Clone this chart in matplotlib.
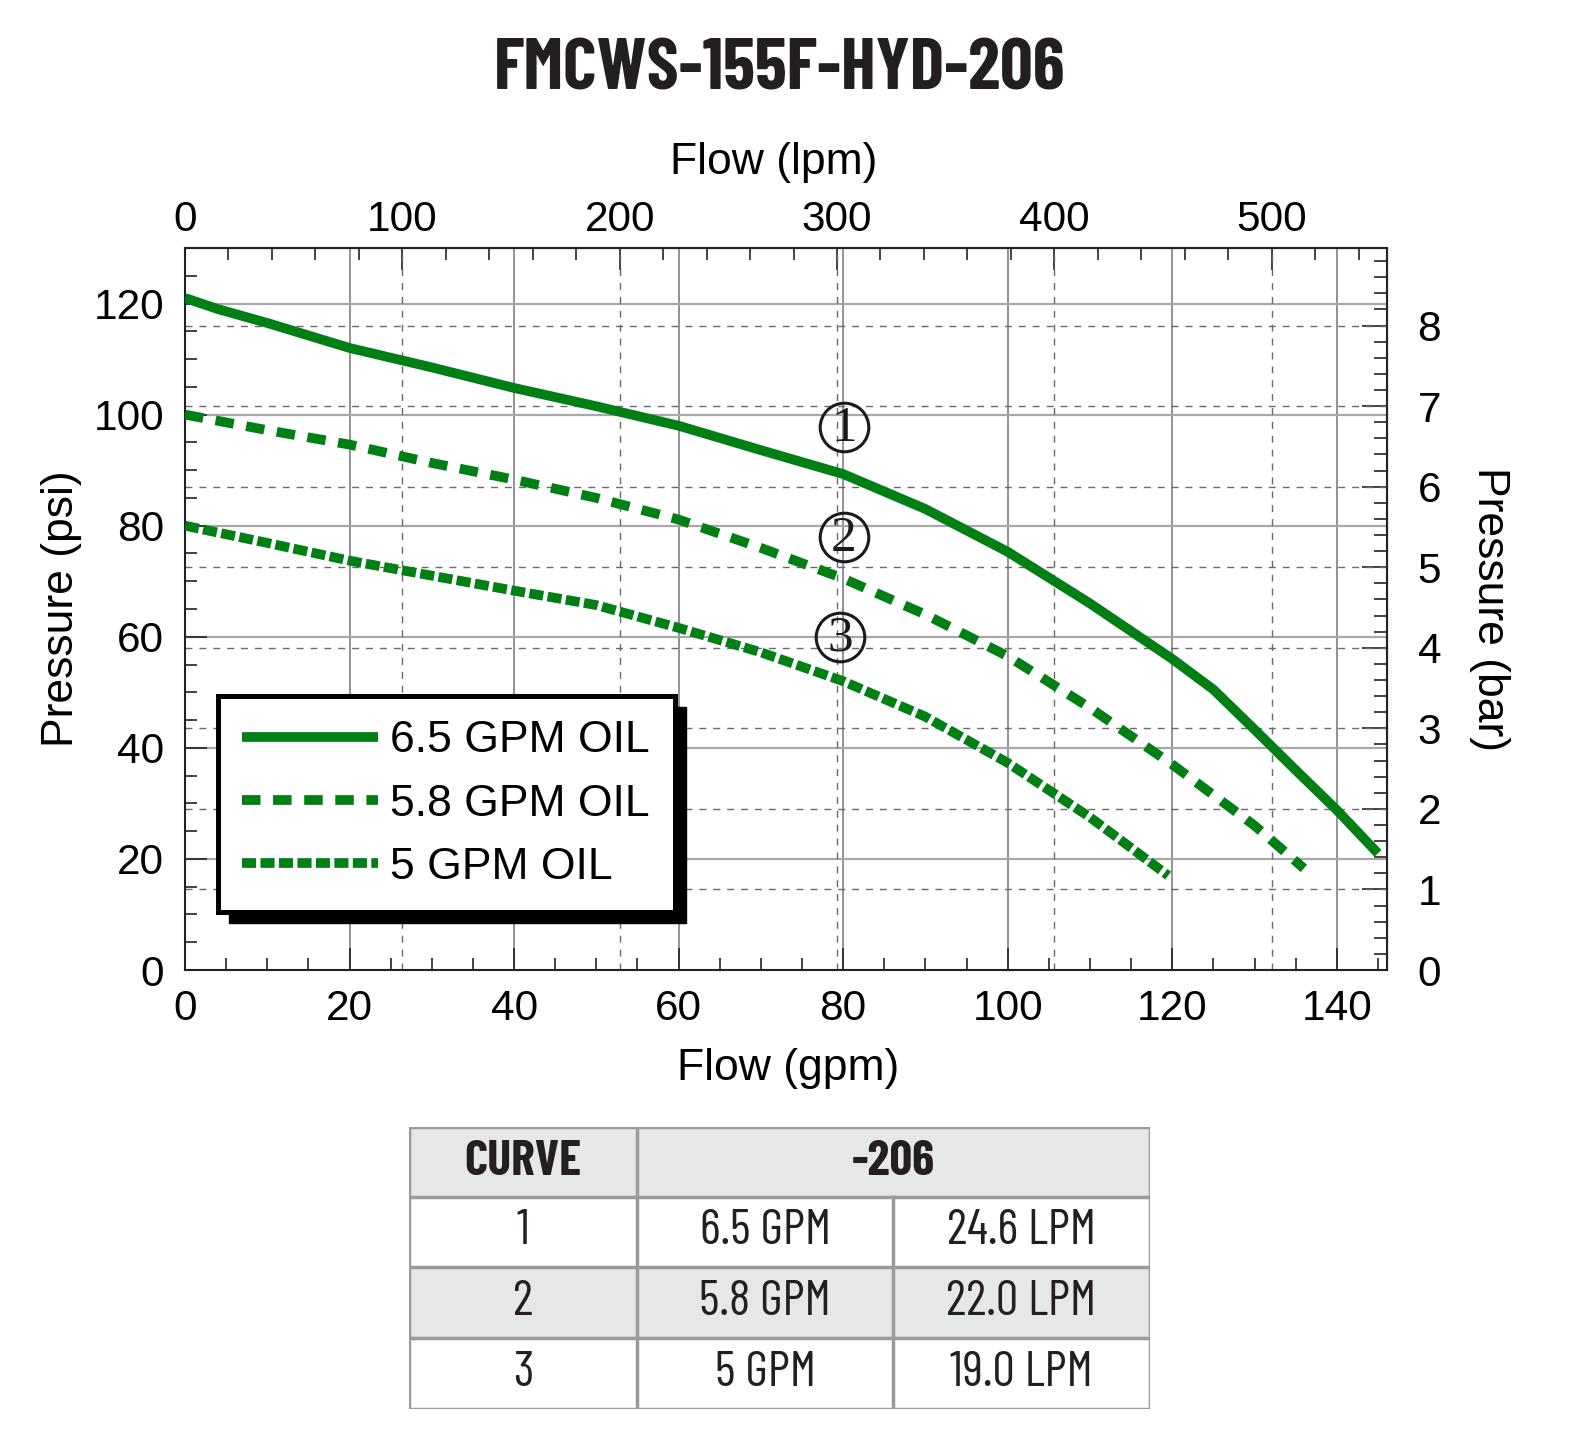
import matplotlib
matplotlib.use('Agg')
import matplotlib.pyplot as plt
from matplotlib.ticker import MultipleLocator
from matplotlib.patches import Rectangle
from matplotlib.textpath import TextPath
from matplotlib import font_manager

plt.rcParams['font.family'] = ['Liberation Sans', 'DejaVu Sans']

GPM_TO_LPM = 3.78541
PSI_PER_BAR = 14.5038

# curve data (flow in gpm, pressure in psi)
flow_1 = [0, 4, 10, 20, 30, 40, 50, 60, 70, 80, 90, 100, 110, 115, 120, 125, 130, 135, 140, 145]
psi_1 = [121, 119, 116.5, 112, 108.5, 104.8, 101.5, 98, 93.6, 89.3, 83, 75.3, 66, 61, 56, 50.5,
         43.3, 36, 28.8, 21]

flow_2 = [0, 10, 20, 30, 40, 50, 60, 70, 80, 90, 100, 110, 120, 130, 136]
psi_2 = [100, 97.2, 94.6, 91.3, 88.3, 85, 81.1, 76, 70.5, 64, 56.5, 47.2, 37, 26, 18.3]

flow_3 = [0, 10, 20, 30, 40, 50, 60, 70, 80, 90, 100, 110, 119.5]
psi_3 = [80, 76.9, 73.7, 71, 68.3, 65.7, 61.6, 57.2, 52, 45.6, 37.3, 27.5, 17]

series_labels = ['6.5 GPM OIL', '5.8 GPM OIL', '5 GPM OIL']
curve_marks = ['1', '2', '3']
mark_pos = [(80.1, 97.7), (80.1, 78.0), (79.6, 60.0)]

title = 'FMCWS-155F-HYD-206'
table_header = ['CURVE', '-206']
table_rows = [['1', '6.5 GPM', '24.6 LPM'],
              ['2', '5.8 GPM', '22.0 LPM'],
              ['3', '5 GPM', '19.0 LPM']]

GREEN = '#007F15'
INK = '#231f20'


def weight_num(f):
    if isinstance(f.weight, int):
        return f.weight
    return font_manager.weight_dict.get(f.weight, 400)


def path_size(fp, s):
    return TextPath((0, 0), s, prop=fp, size=100).get_extents()


def pick_condensed_fonts(target_ratio=11.1):
    # look for a narrow / condensed sans face close to the title's width-to-cap-height ratio
    narrow = [f for f in font_manager.fontManager.ttflist
              if f.style == 'normal' and ('condensed' in str(f.stretch) or 'Narrow' in f.name
                                          or 'Condensed' in f.name)]
    best = None
    for f in narrow:
        if not 600 <= weight_num(f) <= 750:
            continue
        fp = font_manager.FontProperties(fname=f.fname)
        try:
            ratio = path_size(fp, title).width / path_size(fp, 'H').height
        except Exception:
            continue
        if best is None or abs(ratio - target_ratio) < best[0]:
            best = (abs(ratio - target_ratio), f)
    if best is None:
        return (font_manager.FontProperties(family='DejaVu Sans', weight='bold'),
                font_manager.FontProperties(family='DejaVu Sans'))
    fb = best[1]
    regs = [f for f in narrow if f.name == fb.name and str(f.stretch) == str(fb.stretch)
            and 350 <= weight_num(f) <= 500]
    regs.sort(key=lambda f: abs(weight_num(f) - 400))
    reg = font_manager.FontProperties(fname=regs[0].fname) if regs else \
        font_manager.FontProperties(family='DejaVu Sans')
    return font_manager.FontProperties(fname=fb.fname), reg


bold_fp, reg_fp = pick_condensed_fonts()
title_size = 567 * 72 / path_size(bold_fp, title).width
table_size = 35 * 72 / path_size(reg_fp, 'H').height
head_size = 35 * 72 / path_size(bold_fp, 'H').height

fig = plt.figure(figsize=(15.87, 14.38), dpi=100)
ax = fig.add_axes([185 / 1587, 1 - 970 / 1438, 1202 / 1587, 722 / 1438])

ax.set_xlim(0, 146.1)
ax.set_ylim(0, 130)

# solid grid at gpm / psi majors
for g in range(20, 146, 20):
    ax.axvline(g, color='#8a8a8a', lw=1.3, zorder=1)
for p in range(20, 130, 20):
    ax.axhline(p, color='#a8a8a8', lw=1.6, zorder=1)
# dashed grid at lpm / bar majors
for l in range(100, 553, 100):
    ax.axvline(l / GPM_TO_LPM, color='#6a6a6a', lw=1.0, ls=(0, (5, 5)), zorder=1)
for b in range(1, 9):
    ax.axhline(b * PSI_PER_BAR, color='#6a6a6a', lw=1.0, ls=(0, (5, 5)), zorder=1)

l1, = ax.plot(flow_1, psi_1, color=GREEN, lw=7, solid_capstyle='butt', zorder=3)
l2, = ax.plot(flow_2, psi_2, color=GREEN, lw=7, ls=(0, (1.9, 1.3)), zorder=3)
l3, = ax.plot(flow_3, psi_3, color=GREEN, lw=7, ls=(0, (1.45, 0.45)), zorder=3)

for (mx, my), m in zip(mark_pos, curve_marks):
    ax.plot(mx, my, 'o', ms=35, mfc='none', mec='#1a1a1a', mew=2.2, zorder=4)
    ax.text(mx, my - 0.3, m, family='Liberation Serif', fontsize=37, color='#1a1a1a',
            ha='center', va='center', zorder=4)

# ticks
ax.xaxis.set_major_locator(MultipleLocator(20))
ax.xaxis.set_minor_locator(MultipleLocator(5))
ax.yaxis.set_major_locator(MultipleLocator(20))
ax.yaxis.set_minor_locator(MultipleLocator(5))
ax.tick_params(axis='both', which='both', direction='in', width=1.2, color='#222222',
               top=False, right=False, labelsize=30.5)
ax.tick_params(axis='both', which='major', length=16)
ax.tick_params(axis='both', which='minor', length=8.5)
ax.tick_params(axis='x', pad=14)
ax.tick_params(axis='y', pad=15)
for s in ax.spines.values():
    s.set_linewidth(1.5)
    s.set_color('#222222')

top = ax.secondary_xaxis('top', functions=(lambda g: g * GPM_TO_LPM, lambda l: l / GPM_TO_LPM))
top.xaxis.set_major_locator(MultipleLocator(100))
top.xaxis.set_minor_locator(MultipleLocator(20))
top.tick_params(which='both', direction='in', width=1.2, color='#222222', labelsize=30.5, pad=6)
top.tick_params(which='major', length=16)
top.tick_params(which='minor', length=8.5)

right = ax.secondary_yaxis('right', functions=(lambda p: p / PSI_PER_BAR, lambda b: b * PSI_PER_BAR))
right.yaxis.set_major_locator(MultipleLocator(1))
right.yaxis.set_minor_locator(MultipleLocator(0.2))
right.tick_params(which='both', direction='in', width=1.2, color='#222222', labelsize=30.5, pad=22)
right.tick_params(which='major', length=18)
right.tick_params(which='minor', length=9.5)

ax.text(0.502, -0.136, 'Flow (gpm)', transform=ax.transAxes, fontsize=32, ha='center', va='center')
ax.text(0.49, 1.119, 'Flow (lpm)', transform=ax.transAxes, fontsize=32, ha='center', va='center')
ax.text(-0.103, 0.5, 'Pressure (psi)', transform=ax.transAxes, fontsize=32, ha='center',
        va='center', rotation=90)
ax.text(1.085, 0.5, 'Pressure (bar)', transform=ax.transAxes, fontsize=32, ha='center',
        va='center', rotation=-90)

leg = ax.legend([l1, l2, l3], series_labels, loc='upper left', bbox_to_anchor=(0.0275, 0.3795),
                borderaxespad=0, fontsize=32, handlelength=3.06, handletextpad=0.27,
                borderpad=0.55, labelspacing=0.5, fancybox=False, framealpha=1,
                edgecolor='black')
leg.get_frame().set_linewidth(3.6)
leg.set_zorder(6)

fig.canvas.draw()
bb = leg.get_window_extent().transformed(ax.transAxes.inverted())
off_x = 11 / 1202
off_y = 11 / 722
ax.add_patch(Rectangle((bb.x0 + off_x, bb.y0 - off_y), bb.width, bb.height,
                       transform=ax.transAxes, color='black', zorder=5.5, clip_on=False))

fig.text(0.491, 1 - 71 / 1438, title, fontproperties=bold_fp, fontsize=title_size,
         color=INK, ha='center', va='center')

# table under the chart
tab = fig.add_axes([409 / 1587, 1 - 1409 / 1438, 741 / 1587, 282 / 1438])
tab.set_xlim(409, 1150)
tab.set_ylim(1409, 1127)
tab.axis('off')
col_x = [409, 637, 893, 1150]
row_y = [1127, 1197, 1267, 1338, 1409]
fills = ['#e6e7e8', 'white', '#e6e7e8', 'white']
edge = '#9a9a9a'
for i in range(4):
    tab.add_patch(Rectangle((409, row_y[i]), 741, row_y[i + 1] - row_y[i],
                            facecolor=fills[i], edgecolor='none'))
for y in row_y:
    tab.plot([409, 1150], [y, y], color=edge, lw=2.5, solid_capstyle='projecting')
for x in [409, 637, 1150]:
    tab.plot([x, x], [1127, 1409], color=edge, lw=2.5, solid_capstyle='projecting')
tab.plot([893, 893], [1197, 1409], color=edge, lw=2.5)

tab.text((col_x[0] + col_x[1]) / 2, (row_y[0] + row_y[1]) / 2, table_header[0],
         fontproperties=bold_fp, fontsize=head_size, color=INK, ha='center', va='center')
tab.text((col_x[1] + col_x[3]) / 2, (row_y[0] + row_y[1]) / 2, table_header[1],
         fontproperties=bold_fp, fontsize=head_size, color=INK, ha='center', va='center')
for r, row in enumerate(table_rows):
    yc = (row_y[r + 1] + row_y[r + 2]) / 2
    for c, val in enumerate(row):
        tab.text((col_x[c] + col_x[c + 1]) / 2, yc, val, fontproperties=reg_fp,
                 fontsize=table_size, color=INK, ha='center', va='center')

fig.savefig('out.png', dpi=100)
